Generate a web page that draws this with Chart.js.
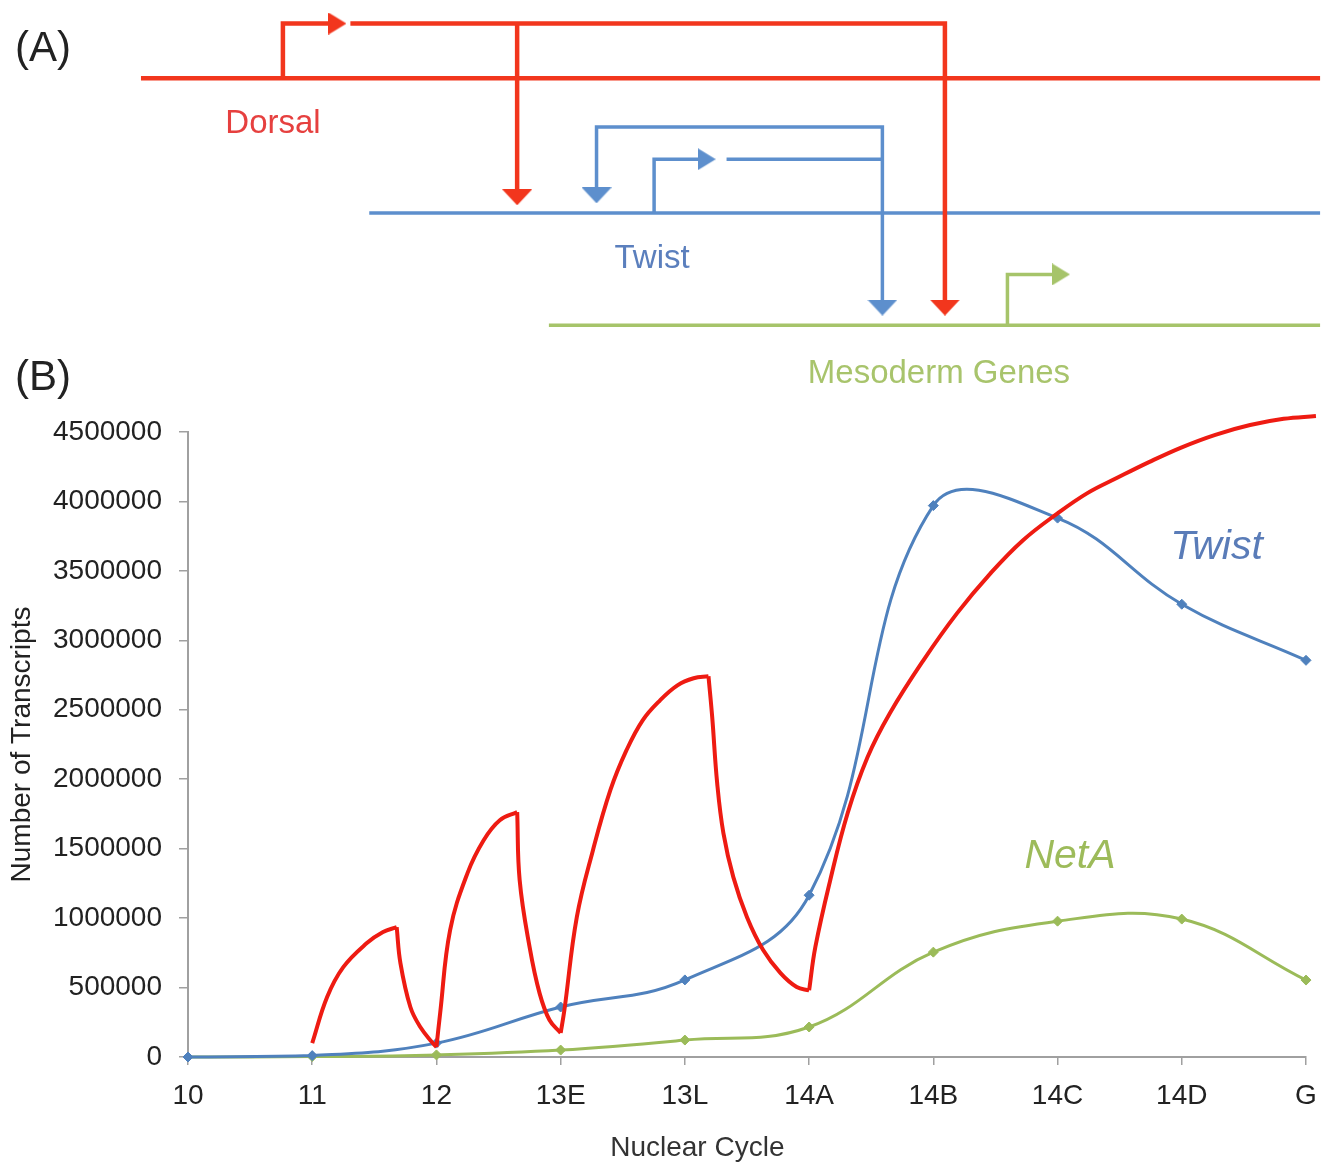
<!DOCTYPE html>
<html>
<head>
<title>Dorsal, Twist and NetA transcripts</title>
<script src="https://cdn.jsdelivr.net/npm/chart.js"></script>
<style>
  body { margin: 0; background: #fff; }
  #wrap { position: relative; width: 1336px; height: 1165px; }
  canvas { position: absolute; left: 0; }
  #diagram { top: 0; }
  #chart { top: 360px; }
</style>
</head>
<body>
<div id="wrap">
  <canvas id="diagram" width="1336" height="420"></canvas>
  <canvas id="chart" width="1336" height="805"></canvas>
</div>
<script>
// ---- panel B data ----
const cycles = ['10', '11', '12', '13E', '13L', '14A', '14B', '14C', '14D', 'G'];
const twist = [0, 10000, 100000, 360000, 555000, 1165000, 3970000, 3880000, 3260000, 2856000];
const netA = [0, 3000, 15000, 50000, 122000, 216000, 755000, 978000, 993000, 554000];
const yTicks = [0, 500000, 1000000, 1500000, 2000000, 2500000, 3000000, 3500000, 4000000, 4500000];

// Dorsal curve: [cycle position, transcripts]
const dorsalRise1 = [[1.00, 100000], [1.12, 432000], [1.25, 647000], [1.44, 820000], [1.57, 900000], [1.68, 935000]];
const dorsalFall1 = [[1.68, 935000], [1.71, 676000], [1.79, 360000], [1.87, 216000], [1.97, 100000], [2.00, 72000]];
const dorsalRise2 = [[2.00, 72000], [2.03, 317000], [2.11, 914000], [2.25, 1324000], [2.38, 1561000], [2.51, 1705000], [2.65, 1763000]];
const dorsalFall2 = [[2.65, 1763000], [2.67, 1273000], [2.75, 791000], [2.83, 460000], [2.91, 266000], [3.00, 173000]];
const dorsalRise3 = [[3.00, 173000], [3.03, 338000], [3.13, 1007000], [3.26, 1489000], [3.40, 1921000], [3.53, 2209000],
                     [3.66, 2424000], [3.80, 2568000], [3.94, 2676000], [4.07, 2727000], [4.19, 2741000]];
const dorsalFall3 = [[4.19, 2741000], [4.22, 2446000], [4.26, 1971000], [4.31, 1612000], [4.39, 1295000], [4.50, 1007000],
                     [4.63, 770000], [4.77, 604000], [4.90, 504000], [5.00, 480000]];
const dorsalRise4 = [[5.00, 480000], [5.05, 791000], [5.17, 1273000], [5.31, 1755000], [5.47, 2158000], [5.65, 2475000],
                     [5.92, 2856000], [6.19, 3194000], [6.46, 3482000], [6.72, 3719000], [7.00, 3914000], [7.24, 4060000],
                     [7.48, 4170000], [7.74, 4285000], [8.00, 4390000], [8.27, 4480000], [8.55, 4550000], [8.82, 4595000],
                     [9.08, 4615000]];

// ---- panel A diagram, in units of a 1336 x 420 frame ----
const dorsalGene = [[137, 75], [1325, 75]];
const dorsalStart = [[280, 75], [280, 19], [326, 19]];
const dorsalOut = [[348, 19], [947, 19], [947, 304]];
const dorsalToTwist = [[516, 19], [516, 191]];
const twistGene = [[367, 213], [1325, 213]];
const twistStart = [[654, 213], [654, 158], [700, 158]];
const twistOut = [[727, 158], [884, 158]];
const twistLoop = [[596, 190], [596, 125], [884, 125], [884, 304]];
const mesoGene = [[548, 328], [1325, 328]];
const mesoStart = [[1010, 328], [1010, 276], [1056, 276]];
// arrow tips
const redDownTips = [[516, 205], [947, 318]];
const blueDownTips = [[596, 203], [884, 318]];
const redRightTips = [[344, 19]];
const blueRightTips = [[716, 158]];
const greenRightTips = [[1073, 276]];

const FONT = "'Liberation Sans', Arial, sans-serif";
const RED_A = '#f2361d', BLUE_A = '#5d8fcd', GREEN_A = '#a6c46a';

function arrowImg(dir, color) {
  const c = document.createElement('canvas');
  const w = dir === 'down' ? 30 : 18, h = dir === 'down' ? 16 : 22;
  c.width = w; c.height = h;
  const g = c.getContext('2d');
  g.fillStyle = color;
  g.beginPath();
  if (dir === 'down') { g.moveTo(0, 0); g.lineTo(w, 0); g.lineTo(w / 2, h); }
  else { g.moveTo(0, 0); g.lineTo(w, h / 2); g.lineTo(0, h); }
  g.closePath();
  g.fill();
  return c;
}

function wire(points, color, width) {
  return {
    data: points.map(p => ({x: p[0], y: p[1]})),
    showLine: true, borderColor: color, borderWidth: width,
    pointRadius: 0, tension: 0, borderCapStyle: 'butt', borderJoinStyle: 'miter', clip: false
  };
}

function heads(tips, dir, color) {
  const img = arrowImg(dir, color);
  return {
    data: tips.map(p => dir === 'down' ? {x: p[0], y: p[1] - img.height / 2} : {x: p[0] - img.width / 2, y: p[1]}),
    showLine: false, pointStyle: img, pointRadius: 1, clip: false
  };
}

const diagramText = {
  id: 'diagramText',
  afterDatasetsDraw(chart) {
    const {ctx, scales: {x, y}} = chart;
    const items = [
      ['(A)', 10, 45, '#222', 42, 'left'],
      ['Dorsal', 270, 122, '#e6403f', 33, 'center'],
      ['Twist', 652, 260, '#5b7fbd', 33, 'center'],
      ['Mesoderm Genes', 941, 378, '#a8c46c', 33, 'center'],
      ['(B)', 10, 383, '#222', 42, 'left']
    ];
    ctx.save();
    ctx.textBaseline = 'middle';
    items.forEach(([t, px, py, col, size, align]) => {
      ctx.font = size + 'px ' + FONT;
      ctx.fillStyle = col;
      ctx.textAlign = align;
      ctx.fillText(t, x.getPixelForValue(px), y.getPixelForValue(py));
    });
    ctx.restore();
  }
};

new Chart(document.getElementById('diagram'), {
  type: 'scatter',
  data: {
    datasets: [
      heads(redDownTips, 'down', RED_A),
      heads(redRightTips, 'right', RED_A),
      heads(blueDownTips, 'down', BLUE_A),
      heads(blueRightTips, 'right', BLUE_A),
      heads(greenRightTips, 'right', GREEN_A),
      wire(dorsalOut, RED_A, 4.5),
      wire(dorsalToTwist, RED_A, 4.5),
      wire(dorsalStart, RED_A, 4.5),
      wire(dorsalGene, RED_A, 4.5),
      wire(twistLoop, BLUE_A, 3.5),
      wire(twistOut, BLUE_A, 3.5),
      wire(twistStart, BLUE_A, 3.5),
      wire(twistGene, BLUE_A, 3.5),
      wire(mesoStart, GREEN_A, 3.5),
      wire(mesoGene, GREEN_A, 3.5)
    ]
  },
  options: {
    responsive: false, animation: false, devicePixelRatio: 1, events: [],
    layout: {padding: 0},
    plugins: {legend: {display: false}, tooltip: {enabled: false}},
    scales: {
      x: {type: 'linear', min: 0, max: 1336, display: false},
      y: {type: 'linear', min: 0, max: 420, reverse: true, display: false}
    }
  },
  plugins: [diagramText]
});

// ---- panel B chart ----
const RED = '#ee1b12', BLUE = '#4f81bd', GREEN = '#9bbb59';
const tickFont = {family: FONT, size: 28};

const chartText = {
  id: 'chartText',
  afterDatasetsDraw(chart) {
    const {ctx, scales: {x, y}} = chart;
    ctx.save();
    ctx.textAlign = 'center';
    ctx.textBaseline = 'middle';
    ctx.font = 'italic 41px ' + FONT;
    ctx.fillStyle = '#5a7cb8';
    ctx.fillText('Twist', x.getPixelForValue(8.28), y.getPixelForValue(3670000));
    ctx.fillStyle = '#9dbb5a';
    ctx.fillText('NetA', x.getPixelForValue(7.10), y.getPixelForValue(1440000));
    ctx.font = '28px ' + FONT;
    ctx.fillStyle = '#333';
    ctx.fillText('Nuclear Cycle', x.getPixelForValue(4.1), x.bottom - 17);
    ctx.restore();
  }
};

const dorsalArcs = [dorsalRise1, dorsalFall1, dorsalRise2, dorsalFall2, dorsalRise3, dorsalFall3, dorsalRise4];

new Chart(document.getElementById('chart'), {
  type: 'line',
  data: {
    datasets: [
      ...dorsalArcs.map(arc => ({
        label: 'Dorsal',
        data: arc.map(p => ({x: p[0], y: p[1]})),
        borderColor: RED, borderWidth: 4, pointRadius: 0,
        tension: 0.4, clip: false
      })),
      {
        label: 'Twist',
        data: twist.map((v, i) => ({x: i, y: v})),
        borderColor: BLUE, backgroundColor: BLUE, borderWidth: 3, tension: 0.4,
        pointStyle: 'rectRot', pointRadius: 5, pointBorderWidth: 1, clip: false
      },
      {
        label: 'NetA',
        data: netA.map((v, i) => ({x: i, y: v})),
        borderColor: GREEN, backgroundColor: GREEN, borderWidth: 3, tension: 0.4,
        pointStyle: 'rectRot', pointRadius: 5, pointBorderWidth: 1, clip: false
      }
    ]
  },
  options: {
    responsive: false, animation: false, devicePixelRatio: 1, events: [],
    layout: {padding: {top: 72, right: 30, left: 0, bottom: 0}},
    plugins: {legend: {display: false}, tooltip: {enabled: false}},
    scales: {
      x: {
        type: 'linear', min: 0, max: 9, offset: false,
        afterFit: s => { s.height = 108; },
        afterBuildTicks: s => { s.ticks = cycles.map((c, i) => ({value: i})); },
        ticks: {callback: v => cycles[v], font: tickFont, color: '#222', padding: 14, autoSkip: false, maxRotation: 0},
        grid: {drawOnChartArea: false, tickLength: 8, color: '#a0a0a0', lineWidth: 1.5},
        border: {color: '#a0a0a0', width: 2}
      },
      y: {
        min: 0, max: 4500000,
        afterFit: s => { s.width = 188; },
        afterBuildTicks: s => { s.ticks = yTicks.map(v => ({value: v})); },
        ticks: {callback: v => String(v), font: tickFont, color: '#222', padding: 17},
        grid: {drawOnChartArea: false, tickLength: 9, color: '#a0a0a0', lineWidth: 1.5},
        border: {color: '#a0a0a0', width: 2},
        title: {display: true, text: 'Number of Transcripts', font: tickFont, color: '#222', padding: {top: 5, bottom: 0}}
      }
    }
  },
  plugins: [chartText]
});
</script>
</body>
</html>
